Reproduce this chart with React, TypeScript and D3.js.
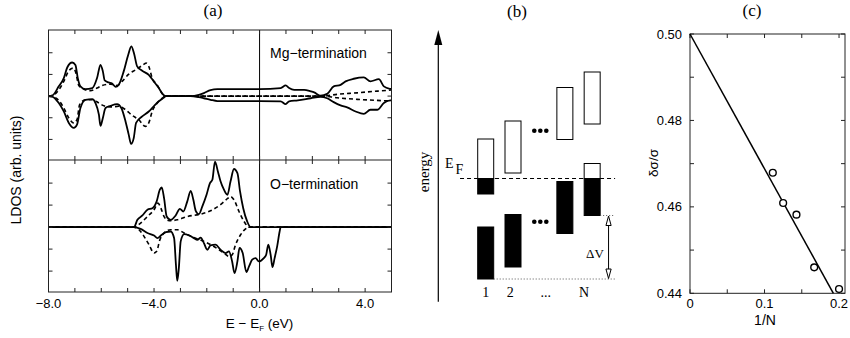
import React from 'react';
import * as d3 from 'd3';

type P = [number, number];

// ---------- Panel (a) data: LDOS curves (E in eV, LDOS arb. units) ----------
const mgSolidUp: P[] = [[-8,0],[-7.86,0.02],[-7.61,0.45],[-7.42,0.83],[-7.29,1.32],[-7.1,1.55],[-6.98,1.44],[-6.89,0.83],[-6.79,0.45],[-6.6,0.32],[-6.34,0.37],[-6.16,0.83],[-6.03,1.44],[-5.94,1.14],[-5.87,0.72],[-5.72,0.63],[-5.59,0.58],[-5.46,0.43],[-5.34,0.52],[-5.15,1.14],[-4.98,1.9],[-4.86,2.29],[-4.76,1.98],[-4.64,1.37],[-4.45,1.17],[-4.2,0.98],[-4.01,0.68],[-3.82,0.37],[-3.67,0.09],[-3.57,0],[-2.62,0],[-2.3,0.06],[-2.11,0.14],[-1.86,0.28],[-1.6,0.32],[0,0.32],[0.8,0.37],[0.99,0.49],[1.12,0.37],[1.31,0.29],[1.69,0.29],[1.94,0.22],[2.07,0.17],[2.31,0.02],[2.56,0.1],[2.81,0.45],[3.07,0.52],[3.26,0.68],[3.57,0.8],[3.95,0.86],[4.2,0.68],[4.52,0.78],[4.71,0.45],[4.96,0.33],[5,0.32]];
const mgSolidDown: P[] = [[-8,0],[-7.86,-0.02],[-7.61,-0.32],[-7.42,-0.71],[-7.23,-1.24],[-7.04,-1.47],[-6.92,-1.32],[-6.79,-0.55],[-6.6,-0.17],[-6.34,-0.14],[-6.22,-0.32],[-6.09,-0.86],[-6.03,-1.37],[-5.94,-1.01],[-5.84,-0.55],[-5.65,-0.45],[-5.4,-0.37],[-5.24,-0.55],[-5.08,-1.17],[-4.96,-1.78],[-4.87,-2.21],[-4.77,-1.94],[-4.68,-1.24],[-4.45,-0.94],[-4.2,-0.71],[-4.01,-0.47],[-3.82,-0.24],[-3.63,-0.07],[-3.55,0],[-2.62,0],[-2.3,-0.05],[-2.11,-0.1],[-1.86,-0.17],[-1.6,-0.23],[0,-0.23],[0.8,-0.24],[0.99,-0.37],[1.12,-0.24],[1.45,-0.2],[1.94,-0.1],[2.31,-0.03],[2.56,-0.1],[2.81,-0.28],[3.07,-0.43],[3.32,-0.52],[3.64,-0.71],[3.95,-0.82],[4.2,-0.63],[4.46,-0.63],[4.71,-0.32],[4.96,-0.2],[5,-0.2]];
const mgDashUp: P[] = [[-8,0],[-7.86,0.02],[-7.61,0.29],[-7.42,0.68],[-7.23,1.17],[-7.07,1.29],[-6.98,1.14],[-6.85,0.49],[-6.66,0.32],[-6.41,0.25],[-6.16,0.37],[-5.97,0.49],[-5.65,0.55],[-5.4,0.49],[-5.21,0.68],[-4.96,1.01],[-4.7,1.21],[-4.45,1.41],[-4.3,1.52],[-4.2,1.37],[-4.07,0.83],[-3.88,0.52],[-3.69,0.11],[-3.57,0],[2.4,0],[2.94,0.08],[3.7,0.15],[4.46,0.23],[5,0.28]];
const mgDashDown: P[] = [[-8,0],[-7.86,-0.02],[-7.61,-0.2],[-7.42,-0.55],[-7.23,-1.01],[-7.04,-1.24],[-6.92,-1.09],[-6.82,-0.4],[-6.6,-0.17],[-6.34,-0.17],[-6.09,-0.32],[-5.9,-0.45],[-5.59,-0.5],[-5.34,-0.47],[-5.08,-0.63],[-4.83,-0.89],[-4.58,-1.09],[-4.33,-1.4],[-4.2,-1.24],[-4.07,-0.71],[-3.88,-0.32],[-3.69,-0.1],[-3.57,0],[2.4,0],[2.94,-0.08],[3.7,-0.15],[4.46,-0.2],[5,-0.23]];

const oSolidUp: P[] = [[-8,0],[-4.76,0],[-4.63,0.33],[-4.44,0.53],[-4.25,0.79],[-4.06,0.86],[-3.9,1.17],[-3.78,1.7],[-3.71,1.8],[-3.62,1.32],[-3.52,0.48],[-3.37,0.33],[-3.18,0.53],[-3.02,0.83],[-2.89,0.71],[-2.74,1.17],[-2.61,1.65],[-2.51,1.24],[-2.42,0.74],[-2.3,0.59],[-2.17,0.94],[-2.01,1.47],[-1.88,2.0],[-1.79,2.15],[-1.69,2.98],[-1.58,2.53],[-1.48,2.08],[-1.35,1.7],[-1.22,1.47],[-1.1,2.08],[-0.97,2.64],[-0.84,2.45],[-0.74,1.62],[-0.62,0.86],[-0.47,0.26],[-0.34,0],[5,0]];
const oDashUp: P[] = [[-8,0],[-4.76,0],[-4.51,0.18],[-4.25,0.48],[-4.0,0.79],[-3.85,1.09],[-3.74,0.86],[-3.62,0.48],[-3.43,0.29],[-3.12,0.33],[-2.74,0.48],[-2.23,0.59],[-1.86,0.74],[-1.48,1.02],[-1.22,1.29],[-1.1,1.39],[-0.97,1.24],[-0.78,0.71],[-0.59,0.26],[-0.4,0],[5,0]];
const oSolidDown: P[] = [[-8,0],[-4.76,0],[-4.51,-0.08],[-4.25,-0.27],[-4.0,-0.38],[-3.87,-0.5],[-3.74,-0.38],[-3.55,-0.23],[-3.37,-0.2],[-3.24,-0.5],[-3.17,-1.71],[-3.12,-2.44],[-3.06,-1.86],[-2.99,-0.65],[-2.86,-0.32],[-2.67,-0.38],[-2.49,-0.5],[-2.36,-0.58],[-2.23,-0.48],[-2.11,-0.73],[-1.98,-1.03],[-1.86,-0.83],[-1.67,-0.8],[-1.48,-1.03],[-1.29,-1.18],[-1.16,-1.1],[-1.04,-1.56],[-0.95,-2.09],[-0.84,-1.56],[-0.76,-0.95],[-0.64,-1.18],[-0.5,-2.04],[-0.4,-1.79],[-0.28,-1.48],[-0.15,-1.41],[-0.03,-1.56],[0.16,-1.41],[0.25,-1.26],[0.33,-0.8],[0.42,-1.26],[0.49,-1.82],[0.57,-1.41],[0.67,-0.85],[0.76,-0.2],[0.8,0],[5,0]];
const oDashDown: P[] = [[-8,0],[-4.76,0],[-4.57,-0.12],[-4.38,-0.42],[-4.19,-0.8],[-4.0,-1.18],[-3.9,-1.1],[-3.78,-0.58],[-3.62,-0.27],[-3.37,-0.12],[-3.12,-0.12],[-2.86,-0.27],[-2.49,-0.47],[-2.11,-0.65],[-1.73,-0.88],[-1.35,-1.18],[-1.16,-1.33],[-1.04,-1.26],[-0.91,-0.8],[-0.72,-0.35],[-0.53,-0.08],[-0.4,0],[5,0]];

const aXTickValues = [-8, -4, 0, 4];
const aXTickLabels = ['\u22128.0', '\u22124.0', '0.0', '4.0'];
const aXMinor = d3.range(-8, 5.01, 1);
const aYTicks = [-2, -1, 0, 1, 2];

// ---------- Panel (b) schematic data (energy in arb. units) ----------
const bEF = 10.05;
const bFilled: [number, number, number][] = [[0, 0, 5.2], [0, 8.5, bEF], [1, 1.2, 6.45], [2.9, 4.55, 9.75], [3.9, 6.35, bEF]];
const bEmpty: [number, number, number][] = [[0, bEF, 14.0], [1, 10.6, 15.8], [2.9, 13.95, 19.15], [3.9, bEF, 11.55], [3.9, 15.5, 20.7]];
const bDots: [number, number][] = [[2.0, 14.83], [2.0, 5.73]];
const bLabels = ['1', '2', '...', 'N'];
const bLabelSlots = [0, 0.9, 2.2, 3.6];

// ---------- Panel (c) data ----------
const cInvN = [1 / 9, 1 / 8, 1 / 7, 1 / 6, 1 / 5];
const cDeltaSigma = [0.4679, 0.4609, 0.4582, 0.446, 0.441];
const cFitX = [0, 0.1924];
const cFitY = [0.5, 0.44];
const cYTicks = [0.44, 0.46, 0.48, 0.5];
const cYTickLabels = ['0.44', '0.46', '0.48', '0.50'];
const cYMinor = [0.45, 0.47, 0.49];
const cXTicks = [0, 0.1, 0.2];
const cXTickLabels = ['0', '0.1', '0.2'];
const cXMinor = [0.05, 0.15];

const SANS = "'Liberation Sans', Arial, Helvetica, sans-serif";
const SERIF = "'Liberation Serif', 'Times New Roman', serif";

export default function App() {
  // Panel a scales
  const xA = d3.scaleLinear().domain([-8, 5]).range([48.5, 391.5]);
  const yTop = d3.scaleLinear().domain([-2.95, 3.05]).range([160, 30]);
  const yBot = d3.scaleLinear().domain([-2.95, 3.05]).range([292, 160]);
  const lineTop = d3.line<P>().x(d => xA(d[0])).y(d => yTop(d[1])).curve(d3.curveMonotoneX);
  const lineBot = d3.line<P>().x(d => xA(d[0])).y(d => yBot(d[1])).curve(d3.curveMonotoneX);
  const aLeft = xA(-8), aRight = xA(5);

  // Panel b scales
  const xB = d3.scaleLinear().domain([0, 1]).range([485.7, 513]);
  const yB = d3.scaleLinear().domain([0, 25]).range([279, 29]);
  const bw = 16;

  // Panel c scales
  const xC = d3.scaleLinear().domain([0, 0.208]).range([690, 845]);
  const yC = d3.scaleLinear().domain([0.44, 0.5]).range([293.3, 34]);
  const fitLine = d3.line<number>().x((_, i) => xC(cFitX[i])).y(d => yC(d));

  const frame = '#222';
  const tl = 4;

  const panelTicks = (y0: number, y1: number, ys: d3.ScaleLinear<number, number>, key: string) => (
    <g key={key} stroke={frame} strokeWidth={1}>
      {aXMinor.map(v => (
        <g key={v}>
          <line x1={xA(v)} x2={xA(v)} y1={y0} y2={y0 + tl} />
          <line x1={xA(v)} x2={xA(v)} y1={y1} y2={y1 - tl} />
        </g>
      ))}
      {aYTicks.map(v => (
        <g key={v}>
          <line x1={aLeft} x2={aLeft + tl} y1={ys(v)} y2={ys(v)} />
          <line x1={aRight} x2={aRight - tl} y1={ys(v)} y2={ys(v)} />
        </g>
      ))}
    </g>
  );

  return (
    <svg width={850} height={338} style={{ position: 'absolute', left: 0, top: 0, background: '#fff' }}>
      <defs>
        <clipPath id="clipTop"><rect x={aLeft} y={30} width={aRight - aLeft} height={130} /></clipPath>
        <clipPath id="clipBot"><rect x={aLeft} y={160} width={aRight - aLeft} height={132} /></clipPath>
      </defs>

      {/* ---------------- Panel (a) ---------------- */}
      <text x={213} y={16} fontFamily={SERIF} fontSize={17} textAnchor="middle">(a)</text>
      <g clipPath="url(#clipTop)" fill="none">
        <path d={lineTop(mgDashUp) || ''} stroke="#000" strokeWidth={1.6} strokeDasharray="4,3" />
        <path d={lineTop(mgDashDown) || ''} stroke="#000" strokeWidth={1.6} strokeDasharray="4,3" />
        <path d={lineTop(mgSolidUp) || ''} stroke="#000" strokeWidth={1.8} />
        <path d={lineTop(mgSolidDown) || ''} stroke="#000" strokeWidth={1.8} />
      </g>
      <g clipPath="url(#clipBot)" fill="none">
        <path d={lineBot(oDashUp) || ''} stroke="#000" strokeWidth={1.6} strokeDasharray="4,3" />
        <path d={lineBot(oDashDown) || ''} stroke="#000" strokeWidth={1.6} strokeDasharray="4,3" />
        <path d={lineBot(oSolidUp) || ''} stroke="#000" strokeWidth={1.8} />
        <path d={lineBot(oSolidDown) || ''} stroke="#000" strokeWidth={1.8} />
      </g>
      <line x1={xA(0)} x2={xA(0)} y1={30} y2={292} stroke="#000" strokeWidth={1} />
      <rect x={aLeft} y={30} width={aRight - aLeft} height={262} fill="none" stroke={frame} strokeWidth={1} />
      <line x1={aLeft} x2={aRight} y1={160} y2={160} stroke={frame} strokeWidth={1.2} />
      {panelTicks(30, 160, yTop, 'tt')}
      {panelTicks(160, 292, yBot, 'bt')}
      <text x={270} y={58} fontFamily={SANS} fontSize={14}>Mg{'\u2212'}termination</text>
      <text x={270} y={189} fontFamily={SANS} fontSize={14}>O{'\u2212'}termination</text>
      {aXTickValues.map((v, i) => (
        <text key={v} x={xA(v)} y={308} fontFamily={SANS} fontSize={13} textAnchor="middle">{aXTickLabels[i]}</text>
      ))}
      <text x={xA(0)} y={328} fontFamily={SANS} fontSize={13.5} textAnchor="middle">
        E {'\u2212'} E<tspan fontSize={8} dy={3}>F</tspan><tspan dy={-3}> (eV)</tspan>
      </text>
      <text transform="translate(21,170) rotate(-90)" fontFamily={SANS} fontSize={14} textAnchor="middle">LDOS (arb. units)</text>

      {/* ---------------- Panel (b) ---------------- */}
      <text x={517} y={17} fontFamily={SERIF} fontSize={17} textAnchor="middle">(b)</text>
      <line x1={438.3} x2={438.3} y1={301.7} y2={42} stroke="#000" strokeWidth={1.2} />
      <path d="M434.3,45 L438.3,30 L442.3,45 Z" fill="#000" />
      <text transform="translate(429,172) rotate(-90)" fontFamily={SERIF} fontSize={15} textAnchor="middle">energy</text>
      <text x={445} y={168} fontFamily={SERIF} fontSize={14}>E</text>
      <text x={455.5} y={174} fontFamily={SERIF} fontSize={14}>F</text>
      <line x1={xB(-0.94)} x2={xB(4.74)} y1={yB(bEF)} y2={yB(bEF)} stroke="#000" strokeWidth={1} strokeDasharray="4,3" />
      {bFilled.map((b, i) => (
        <rect key={'f' + i} x={xB(b[0]) - bw / 2} y={yB(b[2])} width={bw} height={yB(b[1]) - yB(b[2])} fill="#000" stroke="#000" strokeWidth={1} />
      ))}
      {bEmpty.map((b, i) => (
        <rect key={'e' + i} x={xB(b[0]) - bw / 2} y={yB(b[2])} width={bw} height={yB(b[1]) - yB(b[2])} fill="#fff" stroke="#000" strokeWidth={1} />
      ))}
      {bDots.map((d, i) => (
        <g key={'d' + i}>
          {[-0.22, 0, 0.22].map(o => (
            <circle key={o} cx={xB(d[0] + o)} cy={yB(d[1])} r={2.3} fill="#000" />
          ))}
        </g>
      ))}
      <line x1={xB(0) + bw / 2} x2={xB(4.74)} y1={yB(0)} y2={yB(0)} stroke="#555" strokeWidth={1} strokeDasharray="1,2" />
      <line x1={xB(3.9) + bw / 2} x2={xB(4.74)} y1={yB(6.35)} y2={yB(6.35)} stroke="#555" strokeWidth={1} strokeDasharray="1,2" />
      <line x1={xB(4.5)} x2={xB(4.5)} y1={yB(6.35) + 8} y2={yB(0) - 8} stroke="#000" strokeWidth={1} />
      <path d={`M${xB(4.5)},${yB(6.35) + 0.5} L${xB(4.5) - 2.6},${yB(6.35) + 10} L${xB(4.5) + 2.6},${yB(6.35) + 10} Z`} fill="#fff" stroke="#000" strokeWidth={1} />
      <path d={`M${xB(4.5)},${yB(0) - 0.5} L${xB(4.5) - 2.6},${yB(0) - 10} L${xB(4.5) + 2.6},${yB(0) - 10} Z`} fill="#fff" stroke="#000" strokeWidth={1} />
      <text x={595} y={258} fontFamily={SERIF} fontSize={13} textAnchor="middle">{'\u0394'}V</text>
      {bLabels.map((l, i) => (
        <text key={l} x={xB(bLabelSlots[i])} y={297} fontFamily={SERIF} fontSize={14} textAnchor="middle">{l}</text>
      ))}

      {/* ---------------- Panel (c) ---------------- */}
      <text x={752} y={16} fontFamily={SERIF} fontSize={17} textAnchor="middle">(c)</text>
      <rect x={690} y={34} width={155} height={259.3} fill="none" stroke={frame} strokeWidth={1} />
      <g stroke={frame} strokeWidth={1}>
        {[...cYTicks, ...cYMinor].map(v => (
          <g key={v}>
            <line x1={690} x2={694} y1={yC(v)} y2={yC(v)} />
            <line x1={845} x2={841} y1={yC(v)} y2={yC(v)} />
          </g>
        ))}
        {[...cXTicks, ...cXMinor].map(v => (
          <g key={v}>
            <line x1={xC(v)} x2={xC(v)} y1={34} y2={38} />
            <line x1={xC(v)} x2={xC(v)} y1={293.3} y2={289.3} />
          </g>
        ))}
      </g>
      {cYTicks.map((v, i) => (
        <text key={v} x={682} y={yC(v) + 4.5} fontFamily={SANS} fontSize={13} textAnchor="end">{cYTickLabels[i]}</text>
      ))}
      {cXTicks.map((v, i) => (
        <text key={v} x={xC(v)} y={308} fontFamily={SANS} fontSize={13} textAnchor="middle">{cXTickLabels[i]}</text>
      ))}
      <text x={765} y={325} fontFamily={SANS} fontSize={14} textAnchor="middle">1/N</text>
      <text transform="translate(658,163) rotate(-90)" fontFamily={SANS} fontSize={13.5} textAnchor="middle">{'\u03B4\u03C3/\u03C3'}</text>
      <path d={fitLine(cFitY) || ''} fill="none" stroke="#000" strokeWidth={1.5} />
      {cInvN.map((v, i) => (
        <circle key={i} cx={xC(v)} cy={yC(cDeltaSigma[i])} r={3.4} fill="#fff" stroke="#000" strokeWidth={1.4} />
      ))}
    </svg>
  );
}
